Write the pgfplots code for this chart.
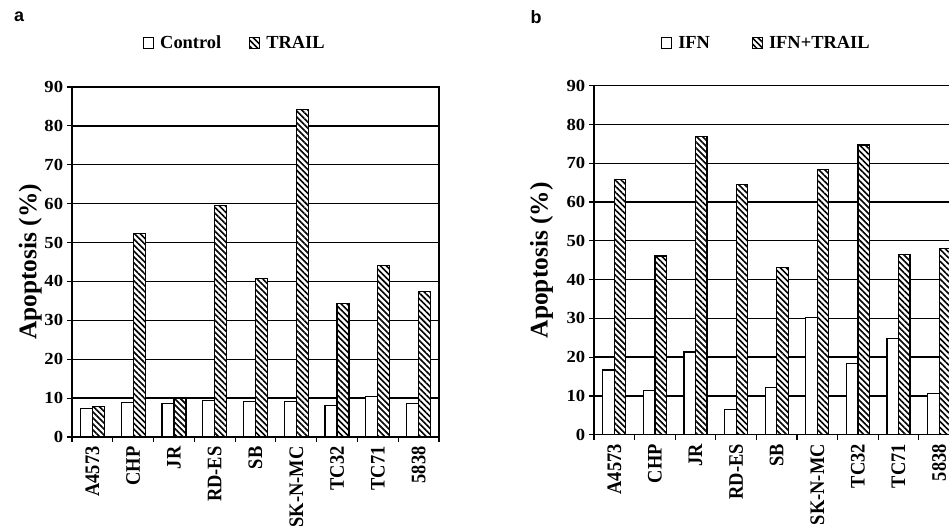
\documentclass[border=0pt]{standalone}
\usepackage{fontspec}
\setmainfont{Liberation Serif}
\newfontfamily\sansb{Liberation Sans}
\usepackage{pgfplots}
\pgfplotsset{compat=1.18}
\usetikzlibrary{patterns.meta}

\pgfplotsset{
  panel/.style={
    scale only axis,
    xmin=-0.5, xmax=8.5, ymin=0, ymax=90,
    ytick={0,10,...,90},
    xtick={0,...,8},
    xticklabels={A4573,CHP,JR,RD-ES,SB,SK-N-MC,TC32,TC71,5838},
    minor xtick={-0.5,0.5,...,8.5},
    major x tick style={draw=none},
    tick align=outside,
    xtick pos=bottom, ytick pos=left,
    major tick length=5bp, minor tick length=5bp,
    tick style={black, line width=1.2bp},
    ymajorgrids,
    grid style={black, line width=1.3bp},
    axis line style={black, line width=1.5bp},
    /pgf/number format/assume math mode=true,
    yticklabel style={font=\fontsize{17}{17}\selectfont\bfseries, xscale=1.1},
    xticklabel style={font=\fontsize{18.5}{18.5}\selectfont\bfseries, rotate=90, anchor=east, yscale=1.12},
    xticklabel shift=1bp,
    ylabel={Apoptosis (\%)},
    ylabel style={font=\fontsize{25.5}{25.5}\selectfont\bfseries, anchor=center},
    ybar=0pt,
    legend columns=2,
    legend style={draw=none, fill=none, font=\fontsize{18.5}{18.5}\selectfont\bfseries, anchor=center,
      /tikz/every odd column/.append style={column sep=4bp}},
    legend image code/.code={\draw[#1, line width=1bp] (0bp,-5.5bp) rectangle (10bp,5.5bp);},
  },
  ctrl/.style={fill=white, draw=black, line width=1.2bp},
  hatch/.style={fill=white, draw=black, line width=1.2bp,
    postaction={pattern={Lines[angle=-45, distance=4.2bp, line width=1.6bp]}}},
}

\begin{document}
\begin{tikzpicture}[x=1bp,y=1bp]
\path[use as bounding box] (0,0) rectangle (949,527);

% Panel a
\begin{axis}[panel,
  at={(72bp,90bp)}, anchor=south west,
  width=367bp, height=350bp,
  bar width=12bp,
  ylabel style={at={(axis description cs:-0.114,0.5)}},
  legend style={at={(axis description cs:0.444,1.126)},
    /tikz/every even column/.append style={column sep=26bp}},
]
\addplot[ctrl] coordinates {(0,7.4) (1,8.9) (2,8.6) (3,9.3) (4,9.2) (5,9.2) (6,8.2) (7,10.4) (8,8.6)};
\addplot[hatch] coordinates {(0,7.8) (1,52.4) (2,9.9) (3,59.5) (4,40.8) (5,84.2) (6,34.3) (7,44.1) (8,37.5)};
\legend{Control,TRAIL}
\end{axis}

% Panel b
\begin{axis}[panel,
  at={(594bp,92.3bp)}, anchor=south west,
  width=365.4bp, height=349bp,
  bar width=11.5bp,
  ylabel style={at={(axis description cs:-0.144,0.5)}},
  legend style={at={(axis description cs:0.472,1.122)},
    /tikz/every even column/.append style={column sep=40bp}},
]
\addplot[ctrl] coordinates {(0,16.7) (1,11.3) (2,21.3) (3,6.6) (4,12.1) (5,30.2) (6,18.4) (7,24.9) (8,10.7)};
\addplot[hatch] coordinates {(0,65.9) (1,46.1) (2,77.0) (3,64.6) (4,43.2) (5,68.3) (6,74.7) (7,46.5) (8,48.1)};
\legend{IFN,IFN+TRAIL}
\end{axis}

\node[font=\sansb\bfseries\fontsize{18}{18}\selectfont] at (19,510) {a};
\node[font=\sansb\bfseries\fontsize{18}{18}\selectfont] at (536,510) {b};
\end{tikzpicture}
\end{document}
